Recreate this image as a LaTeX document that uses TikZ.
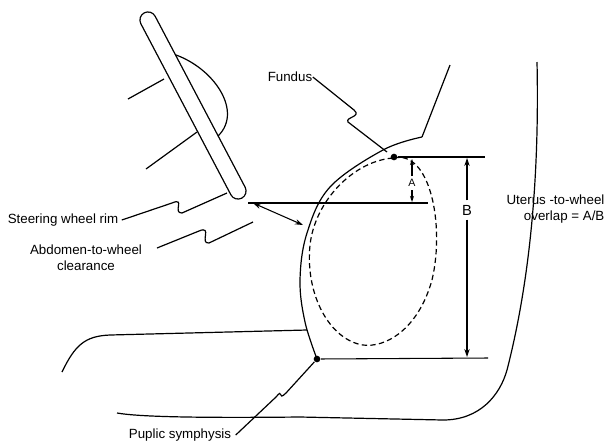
\documentclass[tikz,border=0pt]{standalone}
\usepackage{fontspec}
\setmainfont{Liberation Sans}
\usetikzlibrary{arrows.meta}
\begin{document}
\begin{tikzpicture}[x=0.75pt,y=-0.75pt,line width=0.9pt,
  lbl/.style={font=\fontsize{10}{12}\selectfont,inner sep=0pt},
  dim/.style={line width=0.8pt},
  arr/.style={dim,{Stealth[length=6pt,width=4pt]}-{Stealth[length=6pt,width=4pt]}},
  dot/.style={circle,fill,inner sep=0pt,minimum size=5pt}]
\useasboundingbox (0,0) rectangle (606,444);
% arm lines and bump behind the rim
\draw (128,99) -- (164,79);
\draw (146,169) -- (197,132);
\draw (166,52) .. controls (210,62) and (245,110) .. (218,136);
% steering wheel rim
\draw[line width=13pt,line cap=round] (148,20) -- (238,191);
\draw[white,line width=11pt,line cap=round] (148,20) -- (238,191);
\coordinate (rimend) at (248,203);
% body outlines
\draw (450,65) -- (422,137);
\draw plot[smooth,tension=0.6] coordinates {(422,137) (383,150) (330,187) (307,233) (300,280) (305,322) (317,359)};
\draw (62,372) .. controls (75,345) and (85,336) .. (110,335) -- (307,330);
\draw (117,413) .. controls (140,417) and (200,418) .. (300,417) -- (443,420)
  .. controls (480,420) and (500,395) .. (507,370)
  .. controls (525,300) and (540,200) .. (537,62);
% dashed uterus
\draw[dashed,dash pattern=on 4pt off 2.5pt]
  (394,158) .. controls (430,150) and (445,225) .. (432,280)
  .. controls (418,330) and (385,348) .. (363,345)
  .. controls (330,340) and (305,295) .. (310,245)
  .. controls (315,200) and (355,160) .. (394,158);
% points
\node[dot] (fund) at (394,157) {};
\node[dot] (pub) at (317,359) {};
% dimension lines
\coordinate (t1) at (485,157);
\coordinate (b1) at (488,358);
\coordinate (m1) at (428,203);
\draw[dim] (fund) -- (t1);
\draw[dim] (pub) -- (b1);
\draw[dim] (rimend) -- (m1);
\node[lbl,font=\fontsize{11}{13}\selectfont] (B) at (467,210) {B};
\draw[dim,-{Stealth[length=6pt,width=4pt]}] (B.north) ++(0,-4) -- (467,158);
\draw[dim,-{Stealth[length=6pt,width=4pt]}] (B.south) ++(0,4) -- (467,357);
\node[lbl,font=\fontsize{8}{9}\selectfont] (A) at (412,183) {A};
\draw[dim,-{Stealth[length=4.5pt,width=3pt]}] (412,176) -- (412,159);
\draw[dim,-{Stealth[length=4.5pt,width=3pt]}] (412,190) -- (412,202);
\coordinate (ab) at (303,225);
\draw[arr] (253,203) -- (ab);
% labels
\node[lbl] (fl) at (290,77) {Fundus};
\draw (fl.east) -- (354,110) .. controls (362,117) and (345,117) .. (348,122) -- (387,152);
\node[lbl] (swr) at (63,220) {Steering wheel rim};
\draw (swr.east) ++(3,0) -- (172,203) .. controls (186,197) and (172,213) .. (182,213) -- (227,193);
\node[lbl,align=center] (awc) at (86,258) {Abdomen-to-wheel\\clearance};
\draw (157,248) -- (199,231) .. controls (213,225) and (199,244) .. (209,243) -- (253,222);
\node[lbl,align=right,anchor=east] (ov) at (605,209) {Uterus -to-wheel\\overlap = A/B};
\node[lbl] (ps) at (180,435) {Puplic symphysis};
\draw (ps.east) ++(4,0) -- (276,397) .. controls (284,387) and (277,402) .. (286,393) -- (pub);
\end{tikzpicture}
\end{document}
